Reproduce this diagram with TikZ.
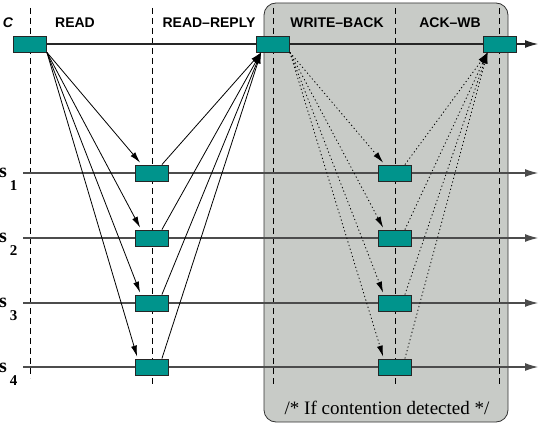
\documentclass[tikz,border=0pt]{standalone}
\usepackage{fontspec}
\setmainfont{Liberation Serif}
\setsansfont{Liberation Sans}
\usetikzlibrary{arrows.meta}
\definecolor{boxteal}{RGB}{0,148,140}
\definecolor{panelgray}{RGB}{200,203,199}
\tikzset{
	msgbox/.style={draw=black!85, fill=boxteal, line width=0.8pt, minimum width=33pt, minimum height=16pt, inner sep=0pt},
	tline/.style={draw=black!70, line width=1.1pt, -{Latex[length=13pt,width=8pt]}},
	phase/.style={line width=0.8pt, dash pattern=on 6pt off 4pt},
	msg/.style={line width=0.8pt, -{Latex[length=11pt,width=6pt]}},
	wbmsg/.style={msg, dash pattern=on 1.2pt off 2.6pt},
	phasename/.style={font=\sffamily\bfseries\fontsize{14}{16}\selectfont, inner sep=0pt},
	srvname/.style={font=\bfseries\fontsize{20}{22}\selectfont, inner sep=0pt, anchor=base west},
}
\newcommand{\srvlabel}[1]{s\hspace{3pt}\raisebox{-13pt}{\fontsize{15}{17}\selectfont #1}}

\begin{document}
\begin{tikzpicture}[x=1pt, y=-1pt]
	\useasboundingbox (0,0) rectangle (543,425);
	% contention panel
	\draw[fill=panelgray, draw=black!80, line width=0.8pt, rounded corners=12pt] (264,3) rectangle (508,422);
	\node[font=\fontsize{19}{21}\selectfont] (note) at (387,408) {/* If contention detected */};
	% phase boundaries
	\draw[phase] (30,8) -- (30,378);
	\draw[phase] (152,8) -- (152,385);
	\draw[phase] (273,8) -- (273,385);
	\draw[phase] (395,8) -- (395,385);
	\draw[phase] (499,8) -- (499,385);
	\node[phasename] (pread) at (75,23) {READ};
	\node[phasename] (preply) at (209,23) {READ--REPLY};
	\node[phasename] (pwb) at (337,23) {WRITE--BACK};
	\node[phasename] (pack) at (450,23) {ACK--WB};
	% time lines
	\node[font=\sffamily\bfseries\itshape\fontsize{14}{16}\selectfont, inner sep=0pt] (cname) at (8,23) {C};
	\coordinate (cstart) at (30,44);
	\coordinate (cend) at (538,44);
	\draw[tline, draw=black!85] (cstart) -- (cend);
	\node[srvname] (sname1) at (-1,177) {\srvlabel{1}};
	\node[srvname] (sname2) at (-1,242) {\srvlabel{2}};
	\node[srvname] (sname3) at (-1,307) {\srvlabel{3}};
	\node[srvname] (sname4) at (-1,372) {\srvlabel{4}};
	\coordinate (s1start) at (23,173);
	\coordinate (s1end) at (538,173);
	\coordinate (s2start) at (23,238);
	\coordinate (s2end) at (538,238);
	\coordinate (s3start) at (23,303);
	\coordinate (s3end) at (538,303);
	\coordinate (s4start) at (23,367);
	\coordinate (s4end) at (538,367);
	\draw[tline] (s1start) -- (s1end);
	\draw[tline] (s2start) -- (s2end);
	\draw[tline] (s3start) -- (s3end);
	\draw[tline] (s4start) -- (s4end);
	% boxes
	\node[msgbox] (c0) at (30,44) {};
	\node[msgbox] (c1) at (273,44) {};
	\node[msgbox] (c2) at (499.5,44) {};
	\node[msgbox] (r1) at (152,173) {};
	\node[msgbox] (r2) at (152,238) {};
	\node[msgbox] (r3) at (152,303) {};
	\node[msgbox] (r4) at (152,367) {};
	\node[msgbox] (w1) at (395,173) {};
	\node[msgbox] (w2) at (395,238) {};
	\node[msgbox] (w3) at (395,303) {};
	\node[msgbox] (w4) at (395,367) {};
	% read
	\draw[msg] (c0.south east) -- ([xshift=5pt, yshift=2pt]r1.north west);
	\draw[msg] (c0.south east) -- ([xshift=5pt, yshift=2pt]r2.north west);
	\draw[msg] (c0.south east) -- ([xshift=5pt, yshift=2pt]r3.north west);
	\draw[msg] (c0.south east) -- ([xshift=2pt, yshift=2pt]r4.north west);
	% read-reply
	\draw[msg] ([xshift=-7pt]r1.north east) -- ([xshift=5pt]c1.south west);
	\draw[msg] ([xshift=-7pt]r2.north east) -- ([xshift=5pt]c1.south west);
	\draw[msg] ([xshift=-7pt]r3.north east) -- ([xshift=5pt]c1.south west);
	\draw[msg] ([xshift=-7pt]r4.north east) -- ([xshift=5pt]c1.south west);
	% write-back
	\draw[wbmsg] (c1.south east) -- ([xshift=5pt, yshift=2pt]w1.north west);
	\draw[wbmsg] (c1.south east) -- ([xshift=5pt, yshift=2pt]w2.north west);
	\draw[wbmsg] (c1.south east) -- ([xshift=5pt, yshift=2pt]w3.north west);
	\draw[wbmsg] (c1.south east) -- ([xshift=5pt, yshift=2pt]w4.north west);
	% ack-wb
	\draw[wbmsg] ([xshift=-7pt]w1.north east) -- ([xshift=5pt]c2.south west);
	\draw[wbmsg] ([xshift=-7pt]w2.north east) -- ([xshift=5pt]c2.south west);
	\draw[wbmsg] ([xshift=-7pt]w3.north east) -- ([xshift=5pt]c2.south west);
	\draw[wbmsg] ([xshift=-7pt]w4.north east) -- ([xshift=5pt]c2.south west);
\end{tikzpicture}
\end{document}
